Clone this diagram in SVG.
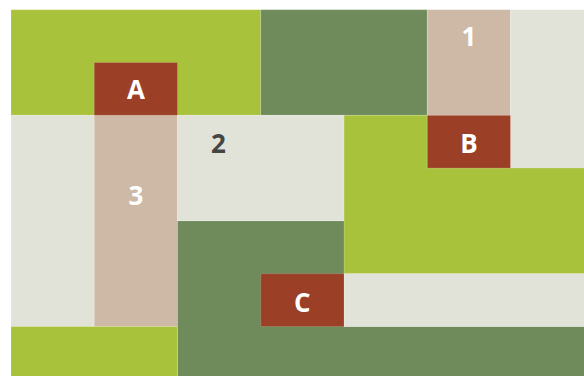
<svg xmlns="http://www.w3.org/2000/svg" width="584" height="376" viewBox="0 0 584 376">
<style>
.lg{fill:#a9c23b}
.dg{fill:#6f8a5b}
.tn{fill:#cdb9a6}
.rd{fill:#9b4027}
.gy{fill:#e1e3d8}
.c{stroke:#ffffff;stroke-opacity:.15;stroke-width:1}
text{font-family:"Open Sans","Noto Sans","Liberation Sans",sans-serif;font-weight:700;font-size:26px;text-anchor:middle;fill:#ffffff}
text.dk{fill:#454545}
</style>
<rect width="584" height="376" fill="#ffffff"/>
<g id="region-green-top-left"><rect class="lg c" x="11" y="9.7" width="249.75" height="105.6"/></g>
<g id="region-darkgreen-top"><rect class="dg c" x="260.75" y="9.7" width="166.5" height="105.6"/></g>
<g id="node-1"><rect class="tn c" x="427.25" y="9.7" width="83.25" height="105.6"/><text x="468.9" y="46">1</text></g>
<g id="region-light-top-right"><rect class="gy c" x="510.5" y="9.7" width="80" height="158.4"/></g>
<g id="region-green-right"><path class="lg c" d="M344 115.3H427.25V168.1H590V273.7H344Z"/></g>
<g id="node-B"><rect class="rd c" x="427.25" y="115.3" width="83.25" height="52.8"/><text x="468.9" y="152.7">B</text></g>
<g id="region-light-left"><rect class="gy c" x="11" y="115.3" width="83.25" height="211.2"/></g>
<g id="node-3"><rect class="tn c" x="94.25" y="115.3" width="83.25" height="211.2"/><text x="135.9" y="205.2">3</text></g>
<g id="node-A"><rect class="rd c" x="94.25" y="62.5" width="83.25" height="52.8"/><text x="135.9" y="99.3">A</text></g>
<g id="node-2"><rect class="gy c" x="177.5" y="115.3" width="166.5" height="105.6"/><text class="dk" x="218.5" y="152.5">2</text></g>
<g id="region-darkgreen-bottom"><path class="dg c" d="M177.5 220.9H344V326.5H590V382H177.5Z"/></g>
<g id="region-light-strip"><rect class="gy c" x="344" y="273.7" width="246" height="52.8"/></g>
<g id="node-C"><rect class="rd c" x="260.75" y="273.7" width="83.25" height="52.8"/><text x="302.4" y="311.7">C</text></g>
<g id="region-green-bottom-left"><rect class="lg c" x="11" y="326.5" width="166.5" height="55"/></g>
<g id="connectors"></g>
</svg>
